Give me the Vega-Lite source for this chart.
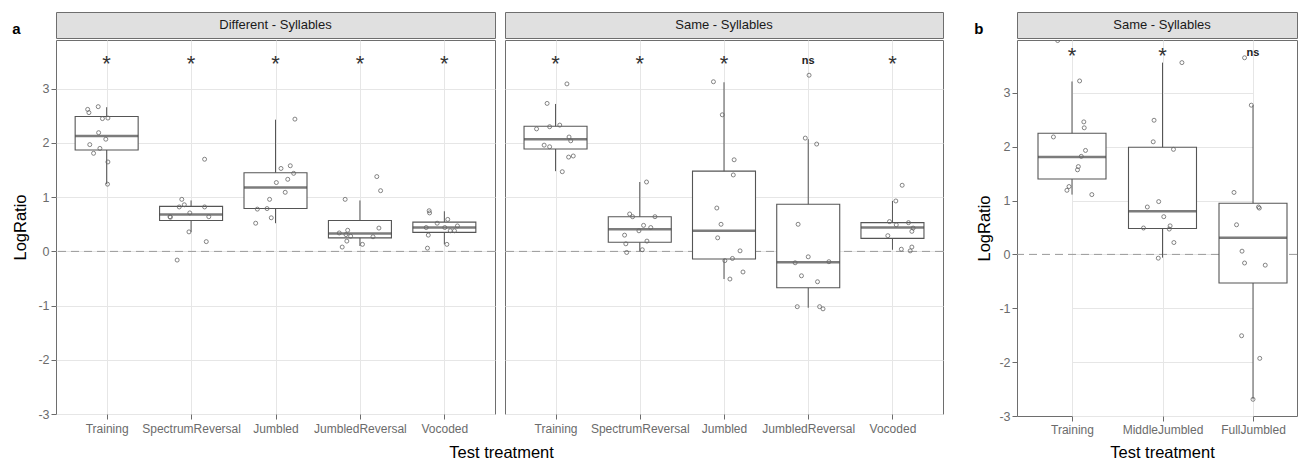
{
"$schema": "https://vega.github.io/schema/vega-lite/v6.json",
"padding": {"left": 11, "top": 11, "right": 0, "bottom": 0},
"background": "white",
"config": {
  "font": "Liberation Sans",
  "view": {"stroke": null},
  "axis": {"labelFont": "Liberation Sans", "titleFont": "Liberation Sans", "labelFontSize": 12, "labelColor": "#6b6b6b", "tickColor": "#6b6b6b", "tickSize": 5, "tickWidth": 1, "titleFontSize": 16.5, "titleFontWeight": "normal", "titleColor": "#000000", "domain": false, "grid": true, "gridColor": "#e6e6e6", "gridWidth": 1},
  "text": {"font": "Liberation Sans"},
  "title": {"font": "Liberation Sans"}
},
"datasets": {
  "strip": [
    {"panel": "Different", "label": "Different - Syllables", "tag": "a"},
    {"panel": "Same", "label": "Same - Syllables", "tag": ""},
    {"panel": "B", "label": "Same - Syllables", "tag": "b"}
  ],
  "box": [
    {"panel":"Different","trt":"Training","lo":1.24,"q1":1.87,"med":2.13,"q3":2.49,"hi":2.66},
    {"panel":"Different","trt":"SpectrumReversal","lo":0.36,"q1":0.57,"med":0.68,"q3":0.83,"hi":0.94},
    {"panel":"Different","trt":"Jumbled","lo":0.52,"q1":0.79,"med":1.18,"q3":1.45,"hi":2.43},
    {"panel":"Different","trt":"JumbledReversal","lo":0.10,"q1":0.25,"med":0.33,"q3":0.57,"hi":0.94},
    {"panel":"Different","trt":"Vocoded","lo":0.13,"q1":0.35,"med":0.44,"q3":0.54,"hi":0.74},
    {"panel":"Same","trt":"Training","lo":1.48,"q1":1.89,"med":2.07,"q3":2.31,"hi":2.72},
    {"panel":"Same","trt":"SpectrumReversal","lo":0.0,"q1":0.17,"med":0.41,"q3":0.64,"hi":1.28},
    {"panel":"Same","trt":"Jumbled","lo":-0.51,"q1":-0.14,"med":0.38,"q3":1.48,"hi":3.12},
    {"panel":"Same","trt":"JumbledReversal","lo":-1.04,"q1":-0.67,"med":-0.20,"q3":0.87,"hi":2.07},
    {"panel":"Same","trt":"Vocoded","lo":0.03,"q1":0.24,"med":0.44,"q3":0.53,"hi":0.93},
    {"panel":"B","trt":"Training","lo":1.11,"q1":1.40,"med":1.81,"q3":2.25,"hi":3.21},
    {"panel":"B","trt":"MiddleJumbled","lo":-0.06,"q1":0.48,"med":0.80,"q3":1.99,"hi":3.56},
    {"panel":"B","trt":"FullJumbled","lo":-2.69,"q1":-0.53,"med":0.31,"q3":0.95,"hi":2.77}
  ],
  "pts": [
    {"panel":"Different","trt":"Training","v":2.62,"jit":-0.225},
    {"panel":"Different","trt":"Training","v":2.56,"jit":-0.21},
    {"panel":"Different","trt":"Training","v":2.67,"jit":-0.10},
    {"panel":"Different","trt":"Training","v":2.45,"jit":-0.05},
    {"panel":"Different","trt":"Training","v":2.46,"jit":0.015},
    {"panel":"Different","trt":"Training","v":2.19,"jit":-0.095},
    {"panel":"Different","trt":"Training","v":2.07,"jit":-0.01},
    {"panel":"Different","trt":"Training","v":1.97,"jit":-0.20},
    {"panel":"Different","trt":"Training","v":1.90,"jit":-0.08},
    {"panel":"Different","trt":"Training","v":1.81,"jit":-0.155},
    {"panel":"Different","trt":"Training","v":1.65,"jit":0.015},
    {"panel":"Different","trt":"Training","v":1.24,"jit":0.01},
    {"panel":"Different","trt":"SpectrumReversal","v":1.70,"jit":0.16},
    {"panel":"Different","trt":"SpectrumReversal","v":0.96,"jit":-0.11},
    {"panel":"Different","trt":"SpectrumReversal","v":0.82,"jit":-0.14},
    {"panel":"Different","trt":"SpectrumReversal","v":0.86,"jit":-0.08},
    {"panel":"Different","trt":"SpectrumReversal","v":0.82,"jit":0.16},
    {"panel":"Different","trt":"SpectrumReversal","v":0.71,"jit":-0.015},
    {"panel":"Different","trt":"SpectrumReversal","v":0.64,"jit":-0.25},
    {"panel":"Different","trt":"SpectrumReversal","v":0.63,"jit":-0.245},
    {"panel":"Different","trt":"SpectrumReversal","v":0.64,"jit":0.21},
    {"panel":"Different","trt":"SpectrumReversal","v":0.36,"jit":-0.025},
    {"panel":"Different","trt":"SpectrumReversal","v":0.18,"jit":0.18},
    {"panel":"Different","trt":"SpectrumReversal","v":-0.16,"jit":-0.165},
    {"panel":"Different","trt":"Jumbled","v":2.44,"jit":0.23},
    {"panel":"Different","trt":"Jumbled","v":1.53,"jit":0.065},
    {"panel":"Different","trt":"Jumbled","v":1.58,"jit":0.175},
    {"panel":"Different","trt":"Jumbled","v":1.44,"jit":0.215},
    {"panel":"Different","trt":"Jumbled","v":1.33,"jit":0.145},
    {"panel":"Different","trt":"Jumbled","v":1.27,"jit":0.01},
    {"panel":"Different","trt":"Jumbled","v":1.09,"jit":0.115},
    {"panel":"Different","trt":"Jumbled","v":0.96,"jit":-0.07},
    {"panel":"Different","trt":"Jumbled","v":0.78,"jit":-0.215},
    {"panel":"Different","trt":"Jumbled","v":0.79,"jit":-0.10},
    {"panel":"Different","trt":"Jumbled","v":0.62,"jit":-0.05},
    {"panel":"Different","trt":"Jumbled","v":0.52,"jit":-0.235},
    {"panel":"Different","trt":"JumbledReversal","v":1.38,"jit":0.20},
    {"panel":"Different","trt":"JumbledReversal","v":1.12,"jit":0.245},
    {"panel":"Different","trt":"JumbledReversal","v":0.96,"jit":-0.175},
    {"panel":"Different","trt":"JumbledReversal","v":0.43,"jit":0.225},
    {"panel":"Different","trt":"JumbledReversal","v":0.39,"jit":-0.145},
    {"panel":"Different","trt":"JumbledReversal","v":0.34,"jit":-0.245},
    {"panel":"Different","trt":"JumbledReversal","v":0.31,"jit":-0.165},
    {"panel":"Different","trt":"JumbledReversal","v":0.28,"jit":-0.11},
    {"panel":"Different","trt":"JumbledReversal","v":0.27,"jit":0.155},
    {"panel":"Different","trt":"JumbledReversal","v":0.19,"jit":-0.155},
    {"panel":"Different","trt":"JumbledReversal","v":0.13,"jit":0.03},
    {"panel":"Different","trt":"JumbledReversal","v":0.08,"jit":-0.21},
    {"panel":"Different","trt":"Vocoded","v":0.75,"jit":-0.18},
    {"panel":"Different","trt":"Vocoded","v":0.71,"jit":-0.175},
    {"panel":"Different","trt":"Vocoded","v":0.59,"jit":0.04},
    {"panel":"Different","trt":"Vocoded","v":0.52,"jit":-0.085},
    {"panel":"Different","trt":"Vocoded","v":0.44,"jit":-0.215},
    {"panel":"Different","trt":"Vocoded","v":0.44,"jit":0.005},
    {"panel":"Different","trt":"Vocoded","v":0.47,"jit":0.155},
    {"panel":"Different","trt":"Vocoded","v":0.38,"jit":0.07},
    {"panel":"Different","trt":"Vocoded","v":0.38,"jit":0.12},
    {"panel":"Different","trt":"Vocoded","v":0.30,"jit":-0.19},
    {"panel":"Different","trt":"Vocoded","v":0.13,"jit":0.03},
    {"panel":"Different","trt":"Vocoded","v":0.06,"jit":-0.20},
    {"panel":"Same","trt":"Training","v":3.09,"jit":0.135},
    {"panel":"Same","trt":"Training","v":2.73,"jit":-0.10},
    {"panel":"Same","trt":"Training","v":2.26,"jit":-0.225},
    {"panel":"Same","trt":"Training","v":2.30,"jit":-0.07},
    {"panel":"Same","trt":"Training","v":2.33,"jit":0.05},
    {"panel":"Same","trt":"Training","v":2.11,"jit":0.16},
    {"panel":"Same","trt":"Training","v":2.04,"jit":0.18},
    {"panel":"Same","trt":"Training","v":1.96,"jit":-0.135},
    {"panel":"Same","trt":"Training","v":1.93,"jit":-0.07},
    {"panel":"Same","trt":"Training","v":1.74,"jit":0.155},
    {"panel":"Same","trt":"Training","v":1.76,"jit":0.21},
    {"panel":"Same","trt":"Training","v":1.47,"jit":0.08},
    {"panel":"Same","trt":"SpectrumReversal","v":1.28,"jit":0.08},
    {"panel":"Same","trt":"SpectrumReversal","v":0.69,"jit":-0.12},
    {"panel":"Same","trt":"SpectrumReversal","v":0.64,"jit":-0.085},
    {"panel":"Same","trt":"SpectrumReversal","v":0.64,"jit":0.18},
    {"panel":"Same","trt":"SpectrumReversal","v":0.48,"jit":0.045},
    {"panel":"Same","trt":"SpectrumReversal","v":0.44,"jit":0.13},
    {"panel":"Same","trt":"SpectrumReversal","v":0.38,"jit":-0.01},
    {"panel":"Same","trt":"SpectrumReversal","v":0.30,"jit":-0.18},
    {"panel":"Same","trt":"SpectrumReversal","v":0.19,"jit":0.085},
    {"panel":"Same","trt":"SpectrumReversal","v":0.14,"jit":-0.165},
    {"panel":"Same","trt":"SpectrumReversal","v":0.03,"jit":0.03},
    {"panel":"Same","trt":"SpectrumReversal","v":-0.02,"jit":-0.155},
    {"panel":"Same","trt":"Jumbled","v":3.13,"jit":-0.125},
    {"panel":"Same","trt":"Jumbled","v":2.52,"jit":-0.02},
    {"panel":"Same","trt":"Jumbled","v":1.69,"jit":0.12},
    {"panel":"Same","trt":"Jumbled","v":1.41,"jit":0.11},
    {"panel":"Same","trt":"Jumbled","v":0.80,"jit":-0.085},
    {"panel":"Same","trt":"Jumbled","v":0.50,"jit":-0.035},
    {"panel":"Same","trt":"Jumbled","v":0.25,"jit":-0.075},
    {"panel":"Same","trt":"Jumbled","v":0.01,"jit":0.19},
    {"panel":"Same","trt":"Jumbled","v":-0.13,"jit":0.10},
    {"panel":"Same","trt":"Jumbled","v":-0.17,"jit":0.01},
    {"panel":"Same","trt":"Jumbled","v":-0.38,"jit":0.225},
    {"panel":"Same","trt":"Jumbled","v":-0.51,"jit":0.07},
    {"panel":"Same","trt":"JumbledReversal","v":3.25,"jit":0.01},
    {"panel":"Same","trt":"JumbledReversal","v":2.09,"jit":-0.035},
    {"panel":"Same","trt":"JumbledReversal","v":1.98,"jit":0.10},
    {"panel":"Same","trt":"JumbledReversal","v":0.50,"jit":-0.12},
    {"panel":"Same","trt":"JumbledReversal","v":-0.10,"jit":0.0},
    {"panel":"Same","trt":"JumbledReversal","v":-0.21,"jit":-0.155},
    {"panel":"Same","trt":"JumbledReversal","v":-0.19,"jit":0.245},
    {"panel":"Same","trt":"JumbledReversal","v":-0.45,"jit":-0.08},
    {"panel":"Same","trt":"JumbledReversal","v":-0.56,"jit":0.11},
    {"panel":"Same","trt":"JumbledReversal","v":-1.02,"jit":-0.13},
    {"panel":"Same","trt":"JumbledReversal","v":-1.02,"jit":0.135},
    {"panel":"Same","trt":"JumbledReversal","v":-1.06,"jit":0.175},
    {"panel":"Same","trt":"Vocoded","v":1.22,"jit":0.115},
    {"panel":"Same","trt":"Vocoded","v":0.93,"jit":0.04},
    {"panel":"Same","trt":"Vocoded","v":0.55,"jit":-0.035},
    {"panel":"Same","trt":"Vocoded","v":0.49,"jit":0.045},
    {"panel":"Same","trt":"Vocoded","v":0.53,"jit":0.19},
    {"panel":"Same","trt":"Vocoded","v":0.43,"jit":0.245},
    {"panel":"Same","trt":"Vocoded","v":0.37,"jit":0.23},
    {"panel":"Same","trt":"Vocoded","v":0.29,"jit":-0.055},
    {"panel":"Same","trt":"Vocoded","v":0.04,"jit":0.105},
    {"panel":"Same","trt":"Vocoded","v":0.08,"jit":0.23},
    {"panel":"Same","trt":"Vocoded","v":0.01,"jit":0.21},
    {"panel":"B","trt":"Training","v":3.97,"jit":-0.17},
    {"panel":"B","trt":"Training","v":3.22,"jit":0.09},
    {"panel":"B","trt":"Training","v":2.46,"jit":0.14},
    {"panel":"B","trt":"Training","v":2.35,"jit":0.145},
    {"panel":"B","trt":"Training","v":2.18,"jit":-0.22},
    {"panel":"B","trt":"Training","v":1.93,"jit":0.16},
    {"panel":"B","trt":"Training","v":1.82,"jit":0.11},
    {"panel":"B","trt":"Training","v":1.63,"jit":0.075},
    {"panel":"B","trt":"Training","v":1.57,"jit":0.065},
    {"panel":"B","trt":"Training","v":1.26,"jit":-0.035},
    {"panel":"B","trt":"Training","v":1.19,"jit":-0.06},
    {"panel":"B","trt":"Training","v":1.11,"jit":0.235},
    {"panel":"B","trt":"MiddleJumbled","v":3.56,"jit":0.23},
    {"panel":"B","trt":"MiddleJumbled","v":2.49,"jit":-0.10},
    {"panel":"B","trt":"MiddleJumbled","v":2.09,"jit":-0.11},
    {"panel":"B","trt":"MiddleJumbled","v":1.95,"jit":0.13},
    {"panel":"B","trt":"MiddleJumbled","v":0.98,"jit":-0.045},
    {"panel":"B","trt":"MiddleJumbled","v":0.88,"jit":-0.18},
    {"panel":"B","trt":"MiddleJumbled","v":0.70,"jit":0.015},
    {"panel":"B","trt":"MiddleJumbled","v":0.53,"jit":0.09},
    {"panel":"B","trt":"MiddleJumbled","v":0.47,"jit":0.08},
    {"panel":"B","trt":"MiddleJumbled","v":0.49,"jit":-0.225},
    {"panel":"B","trt":"MiddleJumbled","v":0.22,"jit":0.135},
    {"panel":"B","trt":"MiddleJumbled","v":-0.07,"jit":-0.05},
    {"panel":"B","trt":"FullJumbled","v":3.65,"jit":-0.10},
    {"panel":"B","trt":"FullJumbled","v":2.77,"jit":-0.02},
    {"panel":"B","trt":"FullJumbled","v":1.15,"jit":-0.225},
    {"panel":"B","trt":"FullJumbled","v":0.88,"jit":0.065},
    {"panel":"B","trt":"FullJumbled","v":0.86,"jit":0.075},
    {"panel":"B","trt":"FullJumbled","v":0.55,"jit":-0.195},
    {"panel":"B","trt":"FullJumbled","v":0.06,"jit":-0.13},
    {"panel":"B","trt":"FullJumbled","v":-0.16,"jit":-0.10},
    {"panel":"B","trt":"FullJumbled","v":-0.20,"jit":0.145},
    {"panel":"B","trt":"FullJumbled","v":-1.51,"jit":-0.135},
    {"panel":"B","trt":"FullJumbled","v":-1.93,"jit":0.08},
    {"panel":"B","trt":"FullJumbled","v":-2.69,"jit":0.0}
  ],
  "sig": [
    {"panel":"Different","trt":"Training","label":"*"},
    {"panel":"Different","trt":"SpectrumReversal","label":"*"},
    {"panel":"Different","trt":"Jumbled","label":"*"},
    {"panel":"Different","trt":"JumbledReversal","label":"*"},
    {"panel":"Different","trt":"Vocoded","label":"*"},
    {"panel":"Same","trt":"Training","label":"*"},
    {"panel":"Same","trt":"SpectrumReversal","label":"*"},
    {"panel":"Same","trt":"Jumbled","label":"*"},
    {"panel":"Same","trt":"JumbledReversal","label":"ns"},
    {"panel":"Same","trt":"Vocoded","label":"*"},
    {"panel":"B","trt":"Training","label":"*"},
    {"panel":"B","trt":"MiddleJumbled","label":"*"},
    {"panel":"B","trt":"FullJumbled","label":"ns"}
  ]
},
"spacing": 29,
"hconcat": [
  {
    "title": {"text": "Test treatment", "orient": "bottom", "anchor": "middle", "frame": "bounds", "dx": 24, "fontSize": 16.5, "fontWeight": "normal", "color": "#000000", "offset": 10},
    "spacing": 8,
    "hconcat": [
      {
        "spacing": 0,
        "vconcat": [
          {
            "width": 439, "height": 26,
            "view": {"fill": "#e0e0e0", "stroke": "#6e6e6e", "strokeWidth": 1},
            "data": {"name": "strip"},
            "transform": [{"filter": "datum.panel === 'Different'"}],
            "mark": {"type": "text", "fontSize": 13, "color": "#1a1a1a", "baseline": "middle"},
            "encoding": {
              "text": {"field": "label"},
              "y": {"field": "tag", "type": "nominal", "axis": {"title": null, "ticks": false, "domain": false, "grid": false, "labelPadding": 36, "labelFontSize": 15, "labelFontWeight": "bold", "labelColor": "#000000", "labelOffset": 3}}
            }
          },
          {
            "width": 439, "height": 374,
            "view": {"stroke": "#6e6e6e", "strokeWidth": 1},
            "layer": [
              {
                "data": {"values": [{"z": 0}]},
                "mark": {"type": "rule", "color": "#9a9a9a", "strokeDash": [8, 5], "strokeWidth": 1},
                "encoding": {
                  "y": {"field": "z", "type": "quantitative", "scale": {"domain": [-3.0, 3.9], "nice": false, "zero": false},
                    "axis": {"title": "LogRatio", "values": [-3, -2.5, -2, -1.5, -1, -0.5, 0, 0.5, 1, 1.5, 2, 2.5, 3, 3.5], "labelExpr": "datum.value % 1 === 0 ? '' + datum.value : ''", "tickOpacity": {"condition": {"test": "datum.value % 1 !== 0", "value": 0}, "value": 1}, "gridColor": {"condition": {"test": "datum.value % 1 !== 0", "value": "#f2f2f2"}, "value": "#e6e6e6"}, "labelPadding": 2, "titlePadding": 9, "labelFontSize": 12.5}}
                }
              },
              {
                "data": {"name": "box"},
                "transform": [{"filter": "datum.panel === 'Different'"}],
                "mark": {"type": "rule", "color": "#555555", "strokeWidth": 1},
                "encoding": {
                  "x": {"field": "trt", "type": "nominal", "scale": {"type": "point", "padding": 0.6, "domain": ["Training", "SpectrumReversal", "Jumbled", "JumbledReversal", "Vocoded"]}, "axis": {"title": null, "labelDx": 6, "labelPadding": 4, "labelAngle": 0}},
                  "y": {"field": "lo", "type": "quantitative", "scale": {"domain": [-3.0, 3.9], "nice": false, "zero": false}},
                  "y2": {"field": "hi"}
                }
              },
              {
                "data": {"name": "box"},
                "transform": [{"filter": "datum.panel === 'Different'"}],
                "mark": {"type": "bar", "width": 63, "fill": "white", "stroke": "#555555", "strokeWidth": 1.1},
                "encoding": {
                  "x": {"field": "trt", "type": "nominal"},
                  "y": {"field": "q1", "type": "quantitative"},
                  "y2": {"field": "q3"}
                }
              },
              {
                "data": {"name": "box"},
                "transform": [{"filter": "datum.panel === 'Different'"}],
                "mark": {"type": "tick", "color": "#444444", "thickness": 2.5, "size": 63},
                "encoding": {
                  "x": {"field": "trt", "type": "nominal"},
                  "y": {"field": "med", "type": "quantitative"}
                }
              },
              {
                "data": {"name": "pts"},
                "transform": [{"filter": "datum.panel === 'Different'"}],
                "mark": {"type": "point", "shape": "circle", "filled": false, "size": 16, "stroke": "#666666", "strokeWidth": 0.8, "opacity": 1},
                "encoding": {
                  "x": {"field": "trt", "type": "nominal"},
                  "xOffset": {"field": "jit", "type": "quantitative", "scale": {"domain": [-0.5, 0.5], "range": [-42.2, 42.2]}},
                  "y": {"field": "v", "type": "quantitative"}
                }
              },
              {
                "data": {"name": "sig"},
                "transform": [{"filter": "datum.panel === 'Different' && datum.label === '*'"}],
                "mark": {"type": "text", "fontSize": 22, "color": "#333333", "baseline": "middle"},
                "encoding": {
                  "x": {"field": "trt", "type": "nominal"},
                  "y": {"datum": 3.46, "type": "quantitative"},
                  "text": {"field": "label"}
                }
              }
            ]
          }
        ]
      },
      {
        "spacing": 0,
        "vconcat": [
          {
            "width": 438, "height": 26,
            "view": {"fill": "#e0e0e0", "stroke": "#6e6e6e", "strokeWidth": 1},
            "data": {"name": "strip"},
            "transform": [{"filter": "datum.panel === 'Same'"}],
            "mark": {"type": "text", "fontSize": 13, "color": "#1a1a1a", "baseline": "middle"},
            "encoding": {"text": {"field": "label"}}
          },
          {
            "width": 438, "height": 374,
            "view": {"stroke": "#6e6e6e", "strokeWidth": 1},
            "layer": [
              {
                "data": {"values": [{"z": 0}]},
                "mark": {"type": "rule", "color": "#9a9a9a", "strokeDash": [8, 5], "strokeWidth": 1},
                "encoding": {
                  "y": {"field": "z", "type": "quantitative", "scale": {"domain": [-3.0, 3.9], "nice": false, "zero": false},
                    "axis": {"title": null, "labels": false, "ticks": false, "values": [-3, -2.5, -2, -1.5, -1, -0.5, 0, 0.5, 1, 1.5, 2, 2.5, 3, 3.5], "gridColor": {"condition": {"test": "datum.value % 1 !== 0", "value": "#f2f2f2"}, "value": "#e6e6e6"}}}
                }
              },
              {
                "data": {"name": "box"},
                "transform": [{"filter": "datum.panel === 'Same'"}],
                "mark": {"type": "rule", "color": "#555555", "strokeWidth": 1},
                "encoding": {
                  "x": {"field": "trt", "type": "nominal", "scale": {"type": "point", "padding": 0.6, "domain": ["Training", "SpectrumReversal", "Jumbled", "JumbledReversal", "Vocoded"]}, "axis": {"title": null, "labelDx": 6, "labelPadding": 4, "labelAngle": 0}},
                  "y": {"field": "lo", "type": "quantitative", "scale": {"domain": [-3.0, 3.9], "nice": false, "zero": false}},
                  "y2": {"field": "hi"}
                }
              },
              {
                "data": {"name": "box"},
                "transform": [{"filter": "datum.panel === 'Same'"}],
                "mark": {"type": "bar", "width": 63, "fill": "white", "stroke": "#555555", "strokeWidth": 1.1},
                "encoding": {
                  "x": {"field": "trt", "type": "nominal"},
                  "y": {"field": "q1", "type": "quantitative"},
                  "y2": {"field": "q3"}
                }
              },
              {
                "data": {"name": "box"},
                "transform": [{"filter": "datum.panel === 'Same'"}],
                "mark": {"type": "tick", "color": "#444444", "thickness": 2.5, "size": 63},
                "encoding": {
                  "x": {"field": "trt", "type": "nominal"},
                  "y": {"field": "med", "type": "quantitative"}
                }
              },
              {
                "data": {"name": "pts"},
                "transform": [{"filter": "datum.panel === 'Same'"}],
                "mark": {"type": "point", "shape": "circle", "filled": false, "size": 16, "stroke": "#666666", "strokeWidth": 0.8, "opacity": 1},
                "encoding": {
                  "x": {"field": "trt", "type": "nominal"},
                  "xOffset": {"field": "jit", "type": "quantitative", "scale": {"domain": [-0.5, 0.5], "range": [-42.2, 42.2]}},
                  "y": {"field": "v", "type": "quantitative"}
                }
              },
              {
                "data": {"name": "sig"},
                "transform": [{"filter": "datum.panel === 'Same' && datum.label === '*'"}],
                "mark": {"type": "text", "fontSize": 22, "color": "#333333", "baseline": "middle"},
                "encoding": {
                  "x": {"field": "trt", "type": "nominal"},
                  "y": {"datum": 3.46, "type": "quantitative"},
                  "text": {"field": "label"}
                }
              },
              {
                "data": {"name": "sig"},
                "transform": [{"filter": "datum.panel === 'Same' && datum.label === 'ns'"}],
                "mark": {"type": "text", "fontSize": 11, "fontWeight": "bold", "color": "#222222", "baseline": "middle"},
                "encoding": {
                  "x": {"field": "trt", "type": "nominal"},
                  "y": {"datum": 3.52, "type": "quantitative"},
                  "text": {"field": "label"}
                }
              }
            ]
          }
        ]
      }
    ]
  },
  {
    "spacing": 0,
    "vconcat": [
      {
        "width": 280, "height": 26,
        "view": {"fill": "#e0e0e0", "stroke": "#6e6e6e", "strokeWidth": 1},
        "data": {"name": "strip"},
        "transform": [{"filter": "datum.panel === 'B'"}],
        "mark": {"type": "text", "fontSize": 13, "color": "#1a1a1a", "baseline": "middle", "dx": 5},
        "encoding": {
          "text": {"field": "label"},
          "y": {"field": "tag", "type": "nominal", "axis": {"title": null, "ticks": false, "domain": false, "grid": false, "labelPadding": 34, "labelFontSize": 15, "labelFontWeight": "bold", "labelColor": "#000000", "labelOffset": 3}}
        }
      },
      {
        "width": 280, "height": 376,
        "view": {"stroke": "#6e6e6e", "strokeWidth": 1},
        "layer": [
          {
            "data": {"values": [{"z": 0}]},
            "mark": {"type": "rule", "color": "#9a9a9a", "strokeDash": [8, 5], "strokeWidth": 1},
            "encoding": {
              "y": {"field": "z", "type": "quantitative", "scale": {"domain": [-3.0, 3.98], "nice": false, "zero": false},
                "axis": {"title": "LogRatio", "values": [-3, -2.5, -2, -1.5, -1, -0.5, 0, 0.5, 1, 1.5, 2, 2.5, 3, 3.5], "labelExpr": "datum.value % 1 === 0 ? '' + datum.value : ''", "tickOpacity": {"condition": {"test": "datum.value % 1 !== 0", "value": 0}, "value": 1}, "gridColor": {"condition": {"test": "datum.value % 1 !== 0", "value": "#f2f2f2"}, "value": "#e6e6e6"}, "labelPadding": 2, "titlePadding": 6, "labelFontSize": 12.5}}
            }
          },
          {
            "data": {"name": "box"},
            "transform": [{"filter": "datum.panel === 'B'"}],
            "mark": {"type": "rule", "color": "#555555", "strokeWidth": 1},
            "encoding": {
              "x": {"field": "trt", "type": "nominal", "scale": {"type": "point", "padding": 0, "domain": ["Training", "MiddleJumbled", "FullJumbled"], "range": [55, 236]}, "axis": {"title": "Test treatment", "labelPadding": 3, "labelAngle": 0, "titlePadding": 9, "titleX": 145}},
              "y": {"field": "lo", "type": "quantitative", "scale": {"domain": [-3.0, 3.98], "nice": false, "zero": false}},
              "y2": {"field": "hi"}
            }
          },
          {
            "data": {"name": "box"},
            "transform": [{"filter": "datum.panel === 'B'"}],
            "mark": {"type": "bar", "width": 68, "fill": "white", "stroke": "#555555", "strokeWidth": 1.1},
            "encoding": {
              "x": {"field": "trt", "type": "nominal"},
              "y": {"field": "q1", "type": "quantitative"},
              "y2": {"field": "q3"}
            }
          },
          {
            "data": {"name": "box"},
            "transform": [{"filter": "datum.panel === 'B'"}],
            "mark": {"type": "tick", "color": "#444444", "thickness": 2.5, "size": 68},
            "encoding": {
              "x": {"field": "trt", "type": "nominal"},
              "y": {"field": "med", "type": "quantitative"}
            }
          },
          {
            "data": {"name": "pts"},
            "transform": [{"filter": "datum.panel === 'B'"}],
            "mark": {"type": "point", "shape": "circle", "filled": false, "size": 16, "stroke": "#666666", "strokeWidth": 0.8, "opacity": 1, "clip": true},
            "encoding": {
              "x": {"field": "trt", "type": "nominal"},
              "xOffset": {"field": "jit", "type": "quantitative", "scale": {"domain": [-0.5, 0.5], "range": [-45.2, 45.2]}},
              "y": {"field": "v", "type": "quantitative"}
            }
          },
          {
            "data": {"name": "sig"},
            "transform": [{"filter": "datum.panel === 'B' && datum.label === '*'"}],
            "mark": {"type": "text", "fontSize": 22, "color": "#333333", "baseline": "middle"},
            "encoding": {
              "x": {"field": "trt", "type": "nominal"},
              "y": {"datum": 3.68, "type": "quantitative"},
              "text": {"field": "label"}
            }
          },
          {
            "data": {"name": "sig"},
            "transform": [{"filter": "datum.panel === 'B' && datum.label === 'ns'"}],
            "mark": {"type": "text", "fontSize": 11, "fontWeight": "bold", "color": "#222222", "baseline": "middle"},
            "encoding": {
              "x": {"field": "trt", "type": "nominal"},
              "y": {"datum": 3.74, "type": "quantitative"},
              "text": {"field": "label"}
            }
          }
        ]
      }
    ]
  }
]
}
